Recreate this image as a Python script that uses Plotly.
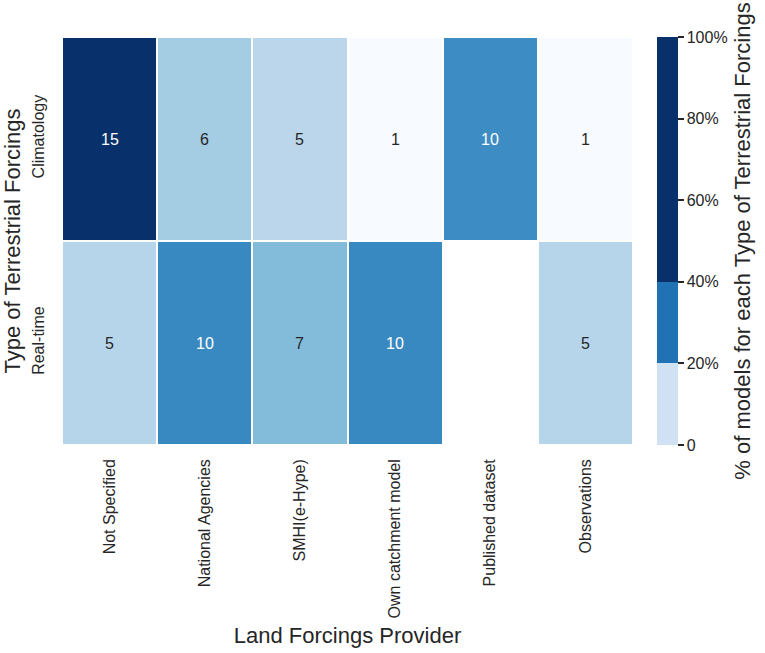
import numpy as np
import plotly.graph_objects as go

# data
providers = ["Not Specified", "National Agencies", "SMHI(e-Hype)",
             "Own catchment model", "Published dataset", "Observations"]
forcing_types = ["Climatology", "Real-time"]
climatology_counts = [15, 6, 5, 1, 10, 1]
realtime_counts = [5, 10, 7, 10, None, 5]
cbar_ticks = [0, 20, 40, 60, 80, 100]
cbar_labels = ["0", "20%", "40%", "60%", "80%", "100%"]

counts = np.array([climatology_counts, realtime_counts], dtype=float)
# percent of models within each type of forcing
pct = counts / np.nansum(counts, axis=1, keepdims=True) * 100
zmin, zmax = np.nanmin(pct), np.nanmax(pct)

FONT = "Arial, Liberation Sans, sans-serif"
TXT = "#262626"

# matplotlib "Blues"
blues = ["#f7fbff", "#deebf7", "#c6dbef", "#9ecae1", "#6baed6",
         "#4292c6", "#2171b5", "#08519c", "#08306b"]
blues_scale = [[i / 8, c] for i, c in enumerate(blues)]

fig = go.Figure()
fig.add_trace(go.Heatmap(
    z=pct, x=providers, y=forcing_types,
    colorscale=blues_scale, zmin=zmin, zmax=zmax,
    xgap=2, ygap=2, showscale=False, hoverinfo="skip",
))

# colorbar as drawn in the original (banded)
band_light, band_mid, band_dark = "#cfe1f2", "#2171b5", "#08306b"
fig.add_trace(go.Scatter(
    x=[providers[0]], y=[forcing_types[0]], mode="markers",
    marker=dict(
        color=[0], cmin=0, cmax=100, opacity=0,
        colorscale=[[0, band_light], [0.2, band_light], [0.2, band_mid],
                    [0.4, band_mid], [0.4, band_dark], [1, band_dark]],
        showscale=True,
        colorbar=dict(
            tickvals=cbar_ticks, ticktext=cbar_labels,
            ticks="outside", ticklen=6, tickwidth=1.5, tickcolor=TXT,
            tickfont=dict(size=16, color=TXT, family=FONT),
            thickness=21, len=1.0, lenmode="fraction", ypad=0, xpad=0,
            x=1.042, xanchor="left", y=0.5, yanchor="middle",
            outlinewidth=0,
            title=dict(text="% of models for each Type of Terrestrial Forcings",
                       side="right", font=dict(size=22, color=TXT, family=FONT)),
        ),
    ),
    hoverinfo="skip", showlegend=False,
))

annotations = []
for i, row in enumerate(counts):
    for j, v in enumerate(row):
        if np.isnan(v):
            continue
        frac = (pct[i, j] - zmin) / (zmax - zmin)
        annotations.append(dict(
            x=providers[j], y=forcing_types[i], text=str(int(v)), showarrow=False,
            font=dict(size=16, family=FONT, color="white" if frac > 0.6 else TXT),
        ))

fig.update_layout(
    width=765, height=653,
    margin=dict(l=62, r=132, t=37, b=208, autoexpand=False),
    paper_bgcolor="white", plot_bgcolor="white",
    font=dict(family=FONT, color=TXT),
    annotations=annotations,
    showlegend=False,
    xaxis=dict(
        title=dict(text="Land Forcings Provider", font=dict(size=22), standoff=10),
        tickangle=-90, tickfont=dict(size=16), showgrid=False, zeroline=False,
        ticks="", showline=False, ticklabelstandoff=10,
    ),
    yaxis=dict(
        title=dict(text="Type of Terrestrial Forcings", font=dict(size=22), standoff=4),
        tickangle=-90, tickfont=dict(size=16), showgrid=False, zeroline=False,
        autorange="reversed", ticks="", showline=False, ticklabelstandoff=14,
    ),
)

# drop the page's default body margin so the figure sits at the window origin
fig.write_html("out.html", config={"displayModeBar": False},
               post_script="document.body.style.margin='0';")
